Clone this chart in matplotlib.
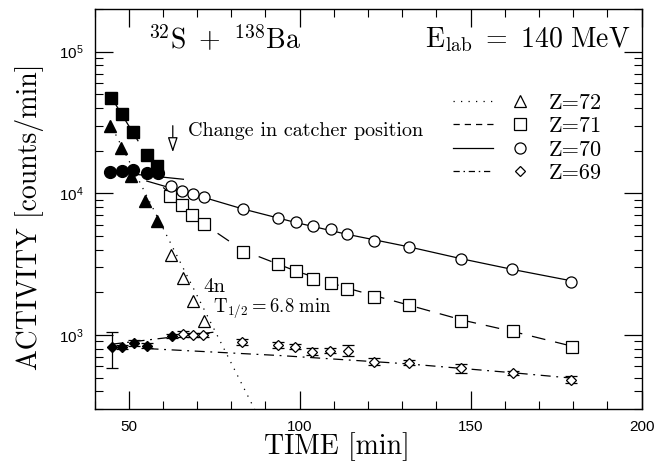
import numpy as np
import matplotlib
matplotlib.use('Agg')
import matplotlib.pyplot as plt
from matplotlib.lines import Line2D
from matplotlib.legend_handler import HandlerTuple
from matplotlib.ticker import LogLocator, NullFormatter

plt.rcParams['font.family'] = ['Liberation Sans', 'DejaVu Sans']
plt.rcParams['mathtext.fontset'] = 'custom'
plt.rcParams['mathtext.rm'] = 'Liberation Sans'
plt.rcParams['mathtext.it'] = 'Liberation Sans:italic'
plt.rcParams['mathtext.bf'] = 'Liberation Sans:bold'

# ---------------- data ----------------
# Z = 72
t72_filled = [44.6, 47.7, 50.7, 54.9, 58.2]
a72_filled = [29800, 21000, 13200, 8830, 6380]
t72_open = [62.4, 65.8, 68.9, 72.0]
a72_open = [3660, 2510, 1745, 1262]
fit72_t = [45.2, 88.3]
fit72_a = [29000, 254]

# Z = 71
t71_filled = [44.9, 48.0, 51.2, 55.3, 58.4]
a71_filled = [46700, 36400, 27000, 18500, 15600]
t71_open = [62.1, 65.5, 68.4, 72.0, 83.5, 93.6, 98.9, 103.9, 109.1, 113.9,
            121.7, 132.0, 147.3, 162.4, 179.6]
a71_open = [9570, 8220, 7000, 6050, 3860, 3160, 2810, 2480, 2320, 2110,
            1840, 1630, 1255, 1062, 819]
fit71a_t = [45.0, 52.8]
fit71a_a = [47200, 23300]
fit71b_t = [60.1, 65.3, 72.3, 83.4, 98.5, 113.6, 131.7, 147.8, 162.9, 179.9]
fit71b_a = [11000, 8400, 6000, 3950, 2850, 2150, 1630, 1270, 1050, 830]

# Z = 70
t70_filled = [44.6, 48.0, 51.3, 55.3, 58.5]
a70_filled = [14100, 14400, 14500, 14000, 13800]
t70_open = [62.4, 65.7, 68.7, 71.9, 83.4, 93.6, 98.9, 103.9, 109.1, 113.9,
            121.7, 132.0, 147.3, 162.2, 179.4]
a70_open = [11200, 10350, 9950, 9400, 7750, 6740, 6320, 5830, 5640, 5140,
            4640, 4190, 3410, 2900, 2370]
fit70a_t = [44.6, 66.0]
fit70a_a = [14200, 12560]
fit70b_t = [55.3, 62.3, 72.3, 83.4, 98.5, 113.6, 131.7, 147.8, 162.9, 179.9]
fit70b_a = [12200, 10900, 9300, 7750, 6250, 5150, 4200, 3430, 2880, 2400]

# Z = 69
t69_filled = [45.0, 48.1, 51.5, 55.3, 62.6]
a69_filled = [819, 819, 874, 841, 989]
e69_filled = [232, 25, 45, 30, 30]
t69_open = [65.8, 68.9, 71.8, 83.1, 93.6, 98.7, 103.7, 108.9, 114.2, 121.9,
            132.0, 147.2, 162.3, 179.4]
a69_open = [1016, 1005, 1000, 897, 850, 827, 763, 775, 775, 649,
            635, 583, 540, 484]
e69_open = [45, 35, 35, 45, 45, 35, 40, 35, 70, 40, 25, 40, 20, 25]
fit69a_t = [45.0, 74.8]
fit69a_a = [860, 1045]
fit69b_t = [55.8, 94.4, 131.6, 162.7, 179.9]
fit69b_a = [800, 715, 625, 540, 495]

legend_labels = ['Z=72', 'Z=71', 'Z=70', 'Z=69']
x_major = [50, 100, 150, 200]
arrow_time = 62.9
arrow_from, arrow_to = 30000, 19500

# ---------------- figure ----------------
W, H = 656, 466
AX_L, AX_R, AX_T, AX_B = 94.5, 641.5, 9, 409
fig = plt.figure(figsize=(W/100, H/100), dpi=100)
ax = fig.add_axes([AX_L/W, 1-AX_B/H, (AX_R-AX_L)/W, (AX_B-AX_T)/H])
ax.set_yscale('log')
ax.set_xlim(40, 200)
ax.set_ylim(300, 2e5)


def axfrac(px, py):
    return (px-AX_L)/(AX_R-AX_L), (AX_B-py)/(AX_B-AX_T)


lw = 0.9
DOT = (0, (1, 5))
DASH = (0, (11, 8))
DASHDOT = (0, (8, 4.5, 1.5, 4.5))

# fits
ax.plot(fit72_t, fit72_a, color='k', lw=lw, ls=DOT)
ax.plot(fit71a_t, fit71a_a, color='k', lw=lw, ls=DASH)
ax.plot(fit71b_t, fit71b_a, color='k', lw=lw, ls=DASH)
ax.plot(fit70a_t, fit70a_a, color='k', lw=lw, ls='-')
ax.plot(fit70b_t, fit70b_a, color='k', lw=lw, ls='-')
ax.plot(fit69a_t, fit69a_a, color='k', lw=lw, ls=DASHDOT)
ax.plot(fit69b_t, fit69b_a, color='k', lw=lw, ls=DASHDOT)

# markers
ax.plot(t72_filled, a72_filled, ls='', marker='^', ms=8.5, color='k')
ax.plot(t72_open, a72_open, ls='', marker='^', ms=8.5, mfc='white', mec='k', mew=0.9)
ax.plot(t71_filled, a71_filled, ls='', marker='s', ms=8.5, color='k')
ax.plot(t71_open, a71_open, ls='', marker='s', ms=8, mfc='white', mec='k', mew=0.9)
ax.plot(t70_filled, a70_filled, ls='', marker='o', ms=8.5, color='k')
ax.plot(t70_open, a70_open, ls='', marker='o', ms=8, mfc='white', mec='k', mew=0.9)
ax.errorbar(t69_filled, a69_filled, yerr=e69_filled, fmt='D', ms=5.5, color='k',
            ecolor='k', elinewidth=0.9, capsize=4, capthick=0.9)
ax.errorbar(t69_open, a69_open, yerr=e69_open, fmt='D', ms=5.5, mfc='white', mec='k',
            mew=0.9, ecolor='k', elinewidth=0.9, capsize=4, capthick=0.9)

# ticks
ax.set_xticks(x_major)
ax.set_xticks(np.arange(40, 201, 10), minor=True)
ax.yaxis.set_major_locator(LogLocator(base=10, numticks=10))
ax.yaxis.set_minor_locator(LogLocator(base=10, subs=np.arange(2, 10), numticks=20))
ax.yaxis.set_minor_formatter(NullFormatter())
ax.tick_params(which='both', direction='in', top=True, right=True)
ax.tick_params(which='major', length=13, width=0.9, labelsize=11, pad=8)
ax.tick_params(which='minor', length=6, width=0.8)
for s in ax.spines.values():
    s.set_linewidth(1.0)

# legend
handles = [
    (Line2D([], [], color='k', lw=lw, ls=DOT),
     Line2D([], [], ls='', marker='^', ms=9, mfc='white', mec='k', mew=0.9)),
    (Line2D([], [], color='k', lw=lw, ls=(0, (5, 4))),
     Line2D([], [], ls='', marker='s', ms=8, mfc='white', mec='k', mew=0.9)),
    (Line2D([], [], color='k', lw=lw, ls='-'),
     Line2D([], [], ls='', marker='o', ms=8, mfc='white', mec='k', mew=0.9)),
    (Line2D([], [], color='k', lw=lw, ls=(0, (5, 3, 1.2, 3))),
     Line2D([], [], ls='', marker='D', ms=5.5, mfc='white', mec='k', mew=0.9)),
]
ax.legend(handles, legend_labels, handler_map={tuple: HandlerTuple(ndivide=None, pad=0.3)},
          handlelength=3.9, handletextpad=0.4, labelspacing=0.18, frameon=False,
          loc='upper left', bbox_to_anchor=axfrac(453, 93),
          borderpad=0, borderaxespad=0, prop={'family': 'cmr10', 'size': 16})

# annotations
ax.annotate('', xy=(arrow_time, arrow_to), xytext=(arrow_time, arrow_from),
            arrowprops=dict(arrowstyle='-|>,head_length=0.9,head_width=0.3',
                            fc='white', ec='k', lw=0.9, shrinkA=0, shrinkB=0))
ax.text(*axfrac(188, 131), 'Change in catcher position', transform=ax.transAxes,
        family='cmr10', size=14.5, ha='left', va='center')
ax.text(*axfrac(203, 287), '4n', transform=ax.transAxes,
        family='cmr10', size=15, ha='left', va='center')
ax.text(*axfrac(213, 308), r'$\mathrm{T_{1/2}{=}6.8\ min}$', transform=ax.transAxes,
        size=13.5, ha='left', va='center', math_fontfamily='cm')
ax.text(*axfrac(148, 40), r'$^{32}\mathrm{S}\ +\ ^{138}\mathrm{Ba}$',
        transform=ax.transAxes, size=20, ha='left', va='center', math_fontfamily='cm')
ax.text(*axfrac(630, 40), r'$\mathrm{E_{lab}\ =\ 140\ MeV}$',
        transform=ax.transAxes, size=20, ha='right', va='center', math_fontfamily='cm')

fig.text(337/W, 1-447/H, 'TIME [min]', family='cmr10', size=20, ha='center', va='center')
fig.text(30/W, 1-217/H, 'ACTIVITY [counts/min]', family='cmr10', size=20,
         ha='center', va='center', rotation=90)

fig.savefig('out.png', dpi=100)
